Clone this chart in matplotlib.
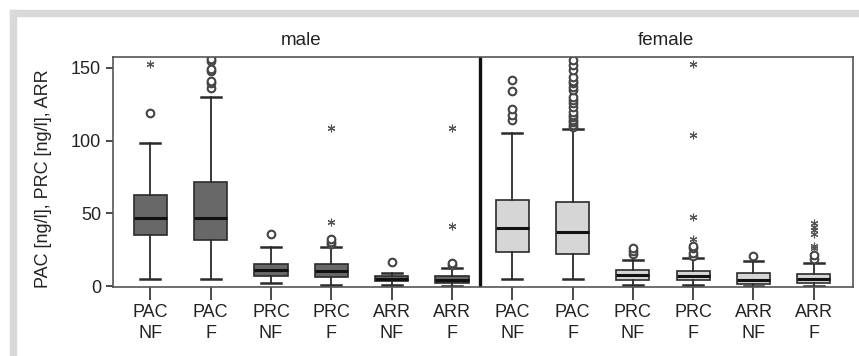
import numpy as np
import matplotlib.pyplot as plt
import matplotlib.patches as mpatches
from matplotlib import font_manager

# ── Data ──────────────────────────────────────────────────────────────────────
labels = ["PAC\nNF", "PAC\nF", "PRC\nNF", "PRC\nF", "ARR\nNF", "ARR\nF"]
groups = ["male", "female"]

male_whislo = [5, 5, 2.3, 0.7, 1, 0.5]
male_q1     = [35, 32, 7, 6.4, 3.5, 2.3]
male_med    = [47, 47, 11.5, 10.5, 5, 4.5]
male_q3     = [62.5, 71.5, 15.6, 15, 7, 6.9]
male_whishi = [98.5, 130, 27, 27, 9, 12.6]
male_circles = [[119], [136, 139.5, 140.7, 147.6, 149.3, 154.5, 156],
                [36], [28.7, 30.5, 32.8], [17], [14.5, 16]]
male_stars = [[153], [], [], [44, 108.5], [], [41.3, 108.5]]

female_whislo = [4.8, 4.8, 0.7, 0.7, 0.2, 0.2]
female_q1     = [23.6, 22.5, 4.6, 4.1, 1.8, 2.3]
female_med    = [39.7, 37, 7.6, 6.9, 4.1, 5.3]
female_q3     = [59, 58, 11.5, 10.5, 9.2, 8.3]
female_whishi = [105, 108, 18.3, 19.5, 17.4, 16.3]
female_circles = [[114, 117.7, 122, 134, 141.7],
                  [109.6, 110.8, 113, 114.2, 116.5, 118, 120, 123.4, 126,
                   128, 130.3, 134.9, 137, 139.5, 141, 144, 148.6, 152, 155.5],
                  [22.5, 24, 26], [21, 23, 26.4, 28], [20.6], [19, 21.3]]
female_stars = [[], [], [], [32.8, 47.7, 104, 153], [],
                [26.4, 28, 36, 38.5, 41, 43.5]]

# ── Style ─────────────────────────────────────────────────────────────────────
names = {f.name for f in font_manager.fontManager.ttflist}
base = "Liberation Sans Narrow" if "Liberation Sans Narrow" in names else "Liberation Sans"
plt.rcParams["font.family"] = [base, "DejaVu Sans"]

C_MALE = "#686868"
C_FEMALE = "#d6d6d6"
C_LINE = "#2b2b2b"

fig = plt.figure(figsize=(8.59, 3.56), dpi=100)
# grey page frame (top and left bands)
fig.patches.append(mpatches.Rectangle((0.012, 0.955), 0.988, 0.017, transform=fig.transFigure,
                                      color="#d9d9d9", zorder=0))
fig.patches.append(mpatches.Rectangle((0.012, 0.0), 0.007, 0.972, transform=fig.transFigure,
                                      color="#d9d9d9", zorder=0))

ax = fig.add_axes([113 / 859, 1 - 287 / 356, (853 - 113) / 859, (287 - 57) / 356])

stats = []
whislo = male_whislo + female_whislo
q1 = male_q1 + female_q1
med = male_med + female_med
q3 = male_q3 + female_q3
whishi = male_whishi + female_whishi
circles = male_circles + female_circles
for i in range(12):
    stats.append(dict(whislo=whislo[i], q1=q1[i], med=med[i], q3=q3[i],
                      whishi=whishi[i], fliers=circles[i]))

pos = np.arange(12)
bp = ax.bxp(stats, positions=pos, widths=0.55, patch_artist=True,
            showfliers=True,
            boxprops=dict(edgecolor=C_LINE, linewidth=1.2),
            medianprops=dict(color="#111111", linewidth=2.2),
            whiskerprops=dict(color=C_LINE, linewidth=1.3),
            capprops=dict(color=C_LINE, linewidth=1.8),
            capwidths=0.33,
            flierprops=dict(marker="o", markersize=5.5, markerfacecolor="white",
                            markeredgecolor="#444444", markeredgewidth=1.5))
for i, b in enumerate(bp["boxes"]):
    b.set_facecolor(C_MALE if i < 6 else C_FEMALE)

stars = male_stars + female_stars
for i, s in enumerate(stars):
    if s:
        ax.plot([pos[i]] * len(s), s, linestyle="none", marker=(6, 2, 0),
                markersize=5.5, color="#555555", markeredgewidth=0.8)

ax.axvline(5.46, color="#111111", linewidth=2.4)
ax.set_xlim(-0.62, 11.65)
ax.set_ylim(-0.5, 157.5)
ax.set_yticks([0, 50, 100, 150])
ax.set_xticks(pos)
ax.set_xticklabels(labels * 2, fontsize=13, color="#222222", linespacing=1.3)
ax.tick_params(axis="x", length=9, width=1.2, color=C_LINE, pad=3)
ax.tick_params(axis="y", length=5, width=1.2, color=C_LINE, labelsize=13,
               labelcolor="#222222")
ax.set_ylabel("PAC [ng/l], PRC [ng/l], ARR", fontsize=13, color="#222222")
ax.yaxis.set_label_coords(-0.083, 0.47)
for sp in ax.spines.values():
    sp.set_color("#555555")
    sp.set_linewidth(1.2)
ax.set_facecolor("white")

ax.text(2.5, 1.035, "male", transform=ax.get_xaxis_transform(), ha="center",
        va="bottom", fontsize=13.5, color="#222222")
ax.text(8.55, 1.035, "female", transform=ax.get_xaxis_transform(), ha="center",
        va="bottom", fontsize=13.5, color="#222222")

fig.savefig("out.png", dpi=100)
